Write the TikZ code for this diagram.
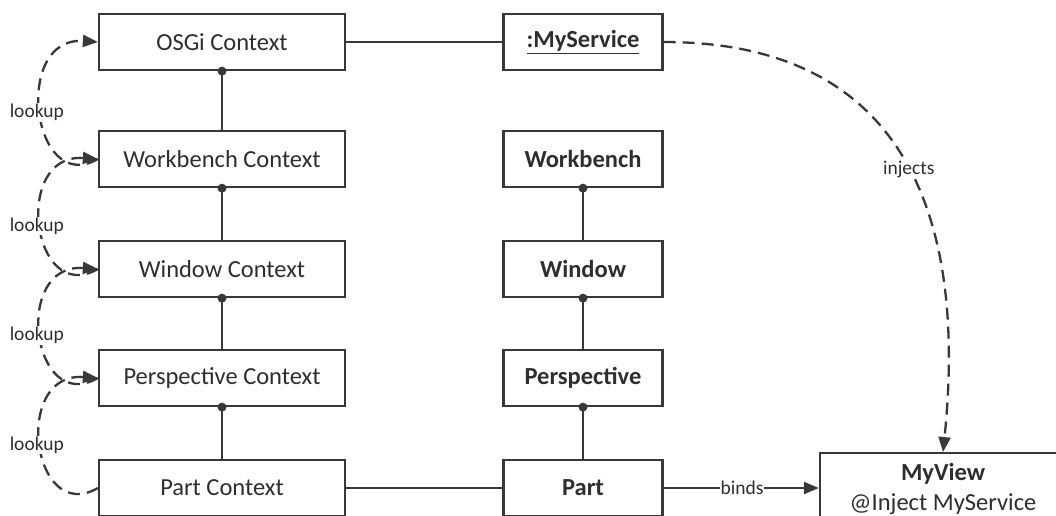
\documentclass[tikz,border=0pt]{standalone}
\usepackage{fontspec}
\setmainfont{Carlito}
\usetikzlibrary{arrows.meta}
\definecolor{ln}{HTML}{383838}
\definecolor{tx}{HTML}{2E2E2E}
\tikzset{
  ctxbox/.style={draw=ln, line width=2.3pt, minimum width=246pt, minimum height=56pt, text=tx, font=\fontsize{24.5}{30}\selectfont, inner sep=0pt},
  objbox/.style={draw=ln, line width=2.3pt, minimum width=159pt, minimum height=56pt, text=tx, font=\fontsize{24.5}{30}\selectfont\bfseries, inner sep=0pt},
  link/.style={draw=ln, line width=2.3pt},
  dashlink/.style={draw=ln, line width=2.3pt, dash pattern=on 12pt off 7pt},
  tip/.style={-{Triangle[length=15pt,width=12pt]}},
  lbl/.style={fill=white, text=tx, font=\fontsize{19.5}{22}\selectfont, inner sep=1pt},
  dotc/.style={fill=ln}
}
\begin{document}
\begin{tikzpicture}[x=1pt, y=-1pt]
\useasboundingbox (0,0) rectangle (1056,515);
\clip (0,0) rectangle (1056,515);
\fill[white] (0,0) rectangle (1056,515);
% left column
\node[ctxbox] (osgi) at (222,42) {OSGi Context};
\node[ctxbox] (wbc) at (222,159) {Workbench Context};
\node[ctxbox] (wic) at (222,269) {Window Context};
\node[ctxbox] (pec) at (222,378) {Perspective Context};
\node[ctxbox] (pac) at (222,488) {Part Context};
% middle column
\node[objbox] (svc) at (583,42) {\underline{:MyService}};
\node[objbox] (wb) at (583,159) {Workbench};
\node[objbox] (wi) at (583,269) {Window};
\node[objbox] (pe) at (583,378) {Perspective};
\node[objbox] (pa) at (583,488) {Part};
% view
\node[draw=ln, line width=2.3pt, minimum width=246pt, minimum height=72pt, anchor=north, align=center, text=tx, font=\fontsize{24.5}{30}\selectfont, inner sep=0pt] (view) at (943,452) {\textbf{MyView}\\@Inject MyService};
% vertical links with dots
\foreach \a/\b in {osgi/wbc, wbc/wic, wic/pec, pec/pac, wb/wi, wi/pe, pe/pa}{
  \draw[link] (\a.south) -- (\b.north);
  \fill[dotc] (\a.south) circle (4.5pt);
}
% horizontal links
\draw[link] (osgi.east) -- (svc.west);
\draw[link] (pac.east) -- (pa.west);
\draw[link, tip] (pa.east) -- node[lbl, pos=0.505] {binds} (view.west |- pa.east);
% lookups
\foreach \lo/\up in {wbc/osgi, wic/wbc, pec/wic, pac/pec}{
  \draw[dashlink, tip] (\lo.west) .. controls ([xshift=-66pt,yshift=-38pt]\lo.west) and ([xshift=-86pt,yshift=6pt]\up.west) .. node[lbl, pos=0.5, xshift=-4pt] {lookup} (\up.west);
}
% injects
\coordinate (vtop) at (943,452);
\draw[dashlink, tip] (svc.east) .. controls (900,42) and (968,210) .. node[lbl, pos=0.53] {injects} (vtop);
\end{tikzpicture}
\end{document}
